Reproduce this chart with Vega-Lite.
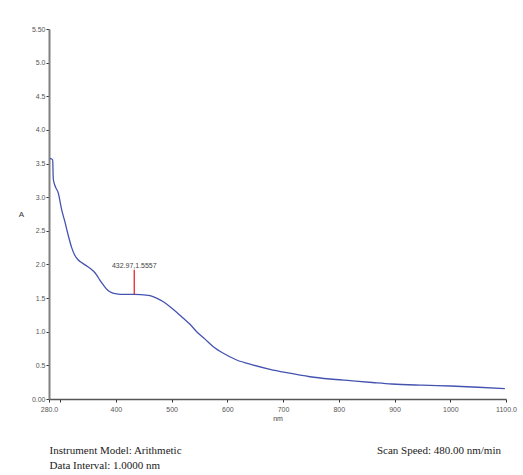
{
  "$schema": "https://vega.github.io/schema/vega-lite/v6.json",
  "width": 457,
  "height": 370,
  "autosize": {"type": "none"},
  "padding": {"left": 49, "top": 29, "right": 17, "bottom": 76},
  "background": "white",
  "config": {"view": {"stroke": null}, "font": "Liberation Sans"},
  "layer": [
    {
      "data": {"values": [
        {"nm": 281.8, "A": 3.578}, {"nm": 284, "A": 3.57}, {"nm": 286.6, "A": 3.553},
        {"nm": 287.7, "A": 3.27}, {"nm": 290.8, "A": 3.17}, {"nm": 296.7, "A": 3.06},
        {"nm": 302.8, "A": 2.81}, {"nm": 308.7, "A": 2.63}, {"nm": 314, "A": 2.45},
        {"nm": 320.7, "A": 2.25}, {"nm": 326, "A": 2.14}, {"nm": 332.6, "A": 2.066},
        {"nm": 340, "A": 2.02}, {"nm": 353.6, "A": 1.943}, {"nm": 360, "A": 1.9},
        {"nm": 365.6, "A": 1.843}, {"nm": 371, "A": 1.77}, {"nm": 377.4, "A": 1.695},
        {"nm": 385, "A": 1.62}, {"nm": 392.5, "A": 1.58}, {"nm": 400, "A": 1.565},
        {"nm": 407, "A": 1.556}, {"nm": 420, "A": 1.555}, {"nm": 432.97, "A": 1.5557},
        {"nm": 445, "A": 1.553}, {"nm": 461.2, "A": 1.536}, {"nm": 473, "A": 1.5},
        {"nm": 485.1, "A": 1.446}, {"nm": 497.1, "A": 1.372}, {"nm": 509, "A": 1.29},
        {"nm": 521, "A": 1.2}, {"nm": 533, "A": 1.11}, {"nm": 545, "A": 1.0},
        {"nm": 560, "A": 0.89}, {"nm": 574.8, "A": 0.778}, {"nm": 592.8, "A": 0.68},
        {"nm": 616.8, "A": 0.58}, {"nm": 646.6, "A": 0.505}, {"nm": 676.6, "A": 0.441},
        {"nm": 706.5, "A": 0.391}, {"nm": 748.3, "A": 0.331}, {"nm": 784.2, "A": 0.297},
        {"nm": 820.1, "A": 0.272}, {"nm": 860, "A": 0.245}, {"nm": 895, "A": 0.223},
        {"nm": 950, "A": 0.205}, {"nm": 1000, "A": 0.193}, {"nm": 1050, "A": 0.175},
        {"nm": 1098, "A": 0.153}
      ]},
      "mark": {"type": "line", "color": "#4553b0", "strokeWidth": 1.3, "interpolate": "monotone"},
      "encoding": {
        "x": {
          "field": "nm", "type": "quantitative",
          "scale": {"domain": [280, 1100], "nice": false, "zero": false},
          "axis": {
            "title": "nm", "titleFontSize": 7, "titleFontWeight": "normal", "titleColor": "#444", "titlePadding": 2,
            "values": [280, 300, 400, 500, 600, 700, 800, 900, 1000, 1100],
            "labelExpr": "datum.value == 280 ? '280.0' : datum.value == 300 ? '' : datum.value == 1100 ? '1100.0' : format(datum.value, '.0f')",
            "labelFontSize": 7, "labelColor": "#555", "labelPadding": 3, "labelFlush": false, "labelOverlap": false,
            "domainColor": "#555", "domainWidth": 1.5, "tickColor": "#333", "tickSize": 3, "grid": false
          }
        },
        "y": {
          "field": "A", "type": "quantitative",
          "scale": {"domain": [0, 5.5], "nice": false, "zero": false},
          "axis": {
            "title": "A", "titleAngle": 0, "titleX": -28, "titleY": 189, "titleFontSize": 8, "titleFontWeight": "normal", "titleColor": "#333", "titleAlign": "center",
            "tickCount": 11, "tickMinStep": 0.5,
            "labelExpr": "datum.value > 5.4 ? '5.50' : datum.value == 0 ? '0.00' : format(datum.value, '.1f')",
            "labelFontSize": 7, "labelColor": "#555", "labelPadding": 1, "labelFlush": false, "labelOverlap": false,
            "domainColor": "#808080", "domainWidth": 2, "tickColor": "#333", "tickSize": 3, "grid": false
          }
        }
      }
    },
    {
      "data": {"values": [{"nm": 432.97, "A": 1.5557, "top": 1.92, "label": "432.97,1.5557"}]},
      "layer": [
        {
          "mark": {"type": "rule", "color": "#e8141c", "strokeWidth": 1.2},
          "encoding": {
            "x": {"field": "nm", "type": "quantitative"},
            "y": {"field": "A", "type": "quantitative"},
            "y2": {"field": "top"}
          }
        },
        {
          "mark": {"type": "text", "fontSize": 7, "color": "#444", "baseline": "bottom", "dy": -1},
          "encoding": {
            "x": {"field": "nm", "type": "quantitative"},
            "y": {"field": "top", "type": "quantitative"},
            "text": {"field": "label"}
          }
        }
      ]
    },
    {
      "data": {"values": [
        {"note": "Instrument Model: Arithmetic", "nm": 281, "A": -0.773, "align": "left"},
        {"note": "Data Interval: 1.0000 nm", "nm": 281, "A": -0.995, "align": "left"},
        {"note": "Scan Speed: 480.00 nm/min", "nm": 1091, "A": -0.773, "align": "right"}
      ]},
      "layer": [
        {
          "transform": [{"filter": "datum.align == 'left'"}],
          "mark": {"type": "text", "font": "Liberation Serif", "fontSize": 11, "color": "#222", "align": "left", "baseline": "middle"},
          "encoding": {"x": {"field": "nm", "type": "quantitative"}, "y": {"field": "A", "type": "quantitative"}, "text": {"field": "note"}}
        },
        {
          "transform": [{"filter": "datum.align == 'right'"}],
          "mark": {"type": "text", "font": "Liberation Serif", "fontSize": 11, "color": "#222", "align": "right", "baseline": "middle"},
          "encoding": {"x": {"field": "nm", "type": "quantitative"}, "y": {"field": "A", "type": "quantitative"}, "text": {"field": "note"}}
        }
      ]
    }
  ]
}
